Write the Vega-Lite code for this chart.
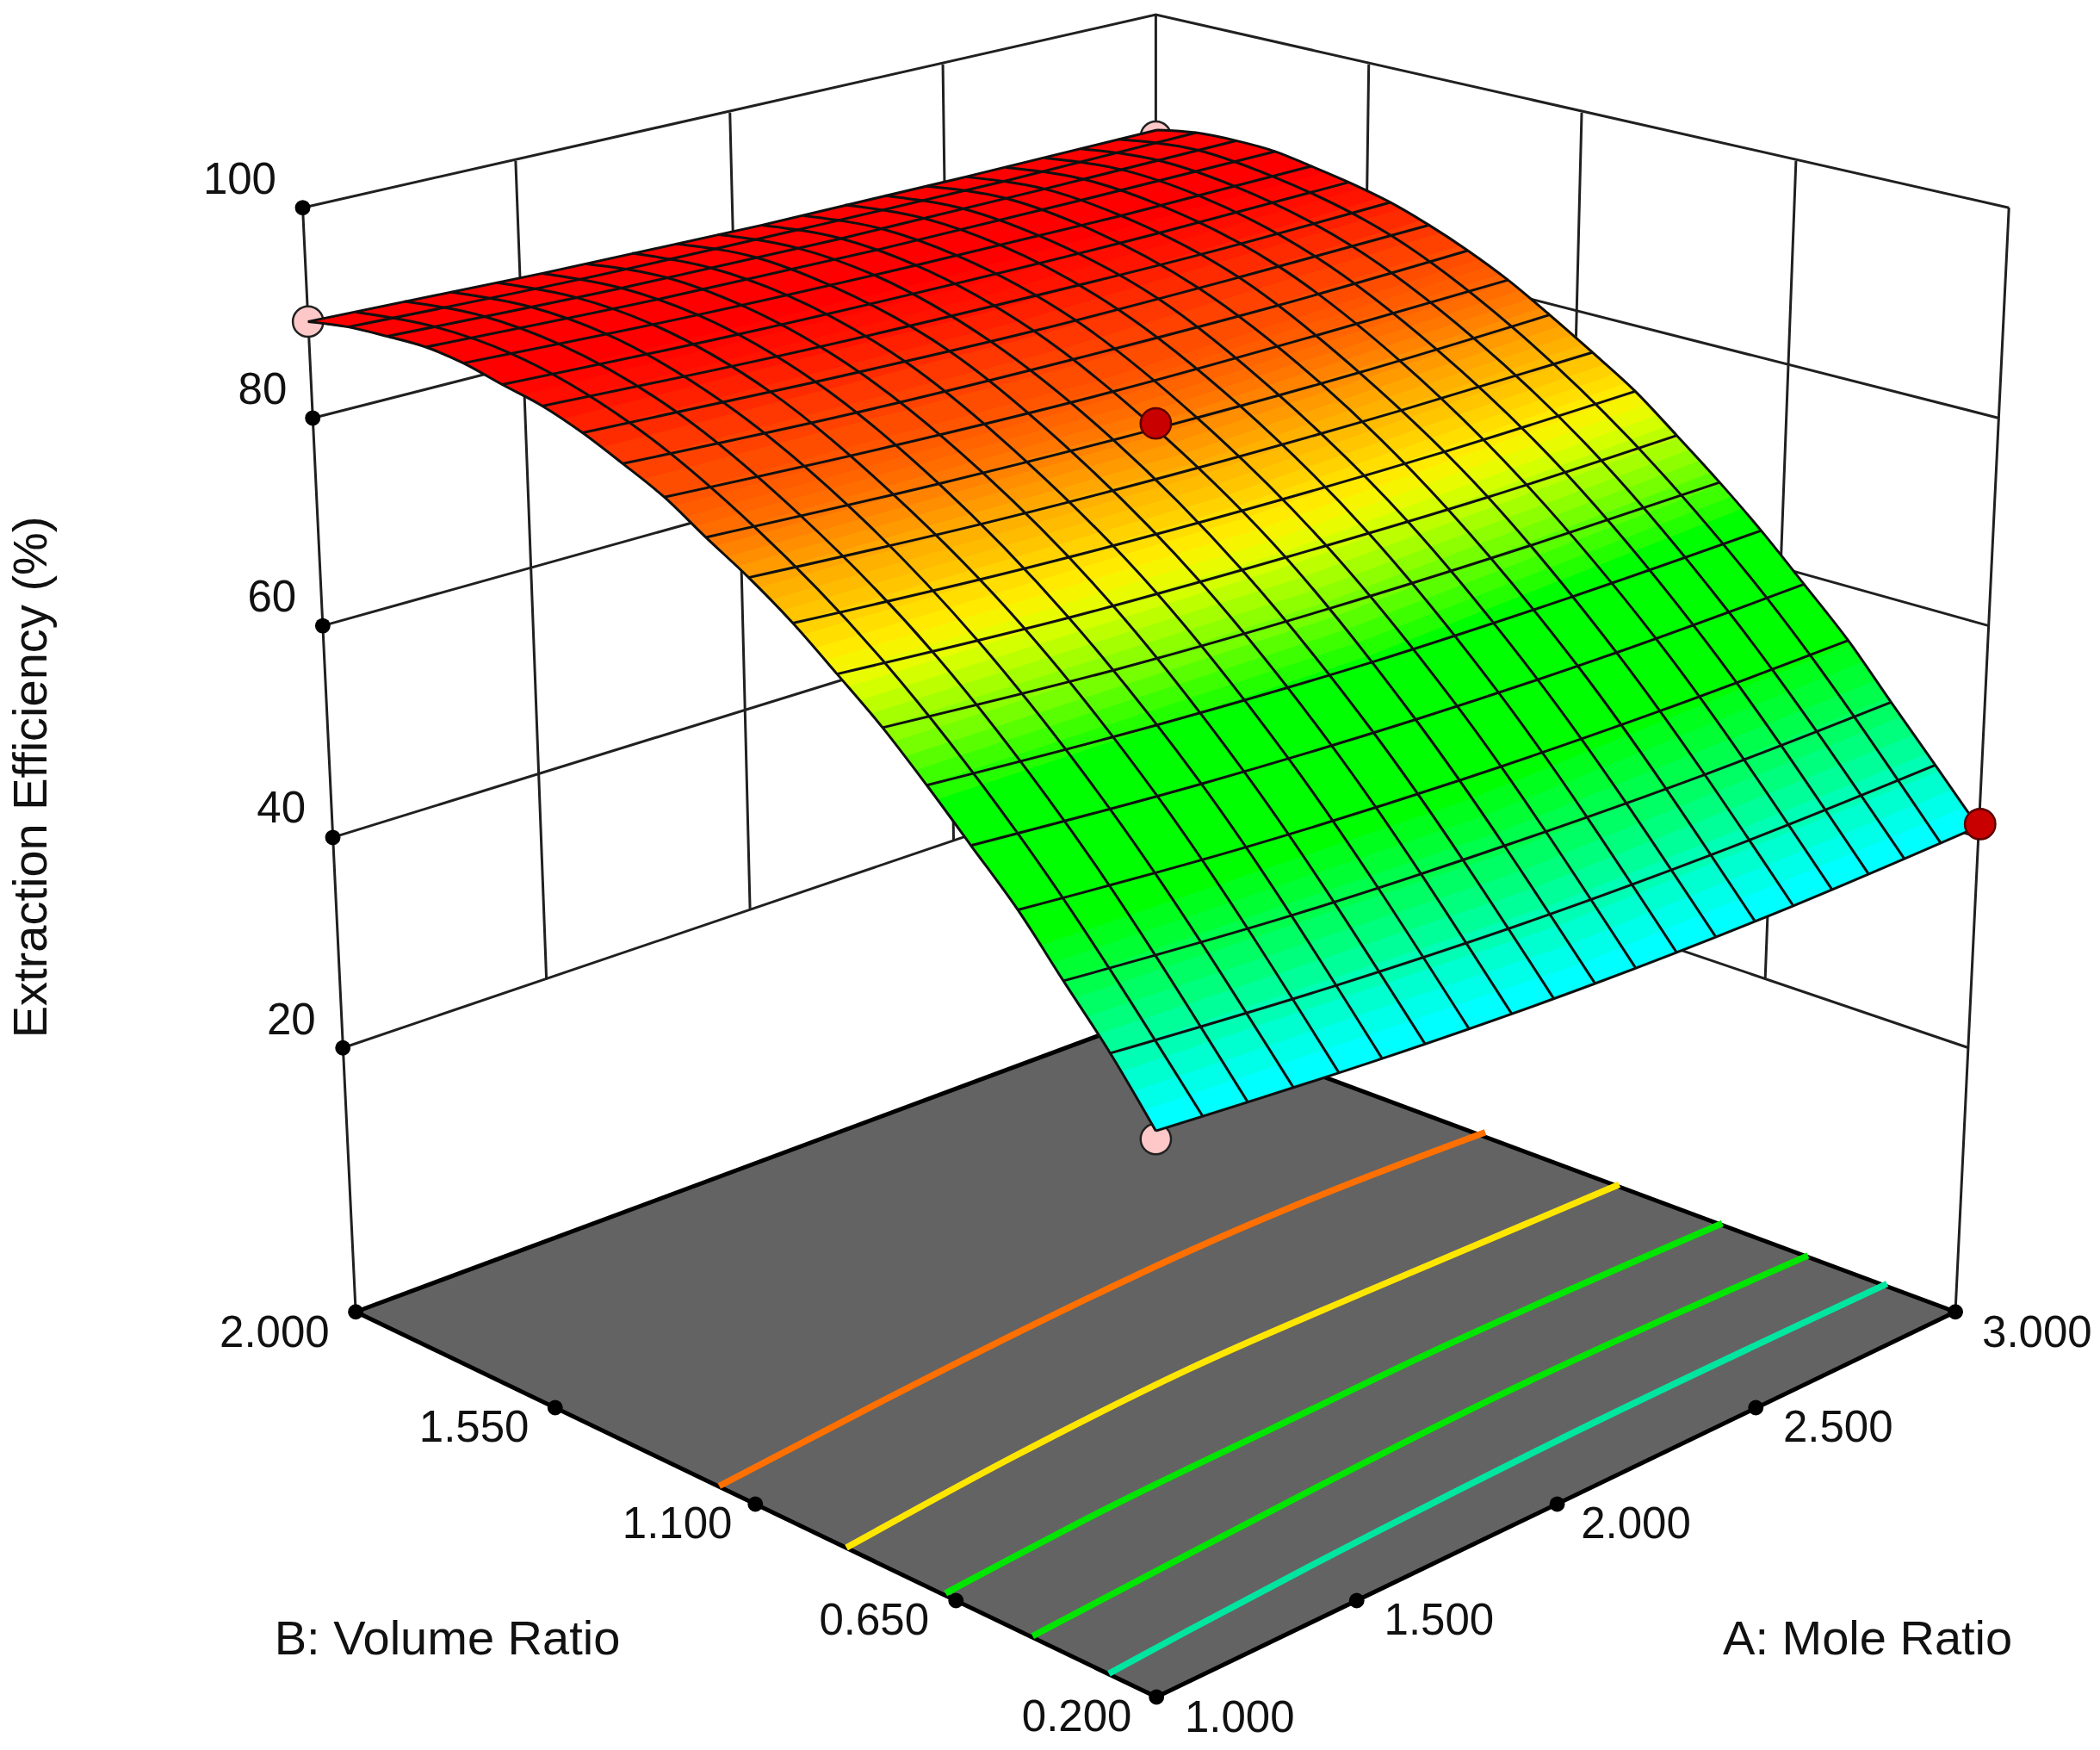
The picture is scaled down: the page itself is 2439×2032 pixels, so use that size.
{
  "$schema": "https://vega.github.io/schema/vega-lite/v6.json",
  "width": 2439,
  "height": 2032,
  "padding": 0,
  "autosize": {"type": "fit", "contains": "padding"},
  "background": "white",
  "config": {"view": {"stroke": null}},
  "datasets": {
    "walls": [
      {"w":"z100","sx":226,"sy":155},{"w":"z100","sx":863,"sy":11},{"w":"z100","sx":1500,"sy":155},
      {"w":"z80","sx":233.5,"sy":312},{"w":"z80","sx":863,"sy":152},{"w":"z80","sx":1492.5,"sy":312},
      {"w":"z60","sx":241,"sy":467},{"w":"z60","sx":863,"sy":293.5},{"w":"z60","sx":1485,"sy":467},
      {"w":"z40","sx":248.5,"sy":625},{"w":"z40","sx":863,"sy":435},{"w":"z40","sx":1477.5,"sy":625},
      {"w":"z20","sx":256,"sy":782},{"w":"z20","sx":863,"sy":576},{"w":"z20","sx":1470,"sy":782},
      {"w":"axisL","sx":226,"sy":155},{"w":"axisL","sx":265.6,"sy":979},
      {"w":"axisR","sx":1460,"sy":979},{"w":"axisR","sx":1500,"sy":155},
      {"w":"v1","sx":385,"sy":120},{"w":"v1","sx":408,"sy":731},
      {"w":"v2","sx":545,"sy":84},{"w":"v2","sx":560,"sy":678},
      {"w":"v3","sx":704,"sy":48},{"w":"v3","sx":712,"sy":627},
      {"w":"vc","sx":863,"sy":11},{"w":"vc","sx":863,"sy":576},
      {"w":"v4","sx":1014,"sy":627},{"w":"v4","sx":1022,"sy":48},
      {"w":"v5","sx":1166,"sy":678},{"w":"v5","sx":1181,"sy":84},
      {"w":"v6","sx":1318,"sy":731},{"w":"v6","sx":1341,"sy":120}
    ],
    "floor": [
      {"o":0,"sx":265.6,"sy":979},{"o":1,"sx":863.5,"sy":1266.5},{"o":2,"sx":1460,"sy":979},{"o":3,"sx":863,"sy":757},{"o":4,"sx":265.6,"sy":979}
    ],
    "contours": [
      {"z":72,"sx":537,"sy":1109},{"z":72,"sx":654,"sy":1048},{"z":72,"sx":777,"sy":986},{"z":72,"sx":887,"sy":934},{"z":72,"sx":976,"sy":896},{"z":72,"sx":1109,"sy":845},
      {"z":60,"sx":632,"sy":1155},{"z":60,"sx":757,"sy":1087},{"z":60,"sx":887,"sy":1022},{"z":60,"sx":1022,"sy":963},{"z":60,"sx":1209,"sy":884},
      {"z":48,"sx":706,"sy":1189},{"z":48,"sx":836,"sy":1121},{"z":48,"sx":950,"sy":1066},{"z":48,"sx":1069,"sy":1009},{"z":48,"sx":1286,"sy":913},
      {"z":36,"sx":771,"sy":1221},{"z":36,"sx":887,"sy":1160},{"z":36,"sx":1116,"sy":1043},{"z":36,"sx":1350,"sy":937},
      {"z":24,"sx":828,"sy":1249},{"z":24,"sx":887,"sy":1217},{"z":24,"sx":976,"sy":1170},{"z":24,"sx":1163,"sy":1075},{"z":24,"sx":1409,"sy":958}
    ],
    "dots": [
      {"sx":226,"sy":155},{"sx":233.5,"sy":312},{"sx":241,"sy":467},{"sx":248.5,"sy":625},{"sx":256,"sy":782},
      {"sx":265.6,"sy":979},{"sx":414.5,"sy":1050.5},{"sx":564,"sy":1122.5},{"sx":713.8,"sy":1194.5},{"sx":863.5,"sy":1266.5},
      {"sx":1013,"sy":1194.5},{"sx":1162.7,"sy":1122.5},{"sx":1311,"sy":1050.5},{"sx":1460,"sy":979}
    ],
    "designLow": [
      {"sx":230,"sy":240},{"sx":863,"sy":102},{"sx":863,"sy":850}
    ],
    "designHigh": [
      {"sx":863,"sy":316},{"sx":1478.5,"sy":615}
    ],
    "bands": [
      {"b":0,"o":0,"sx":230,"sy":240,"z":85},{"b":0,"o":1,"sx":260,"sy":244,"z":85},{"b":0,"o":2,"sx":289,"sy":251,"z":85},{"b":0,"o":3,"sx":318,"sy":259,"z":85},
      {"b":0,"o":4,"sx":346,"sy":271,"z":85},{"b":0,"o":5,"sx":375,"sy":287,"z":85},{"b":0,"o":6,"sx":704,"sy":208,"z":85},{"b":0,"o":7,"sx":990,"sy":129,"z":85},
      {"b":0,"o":8,"sx":979,"sy":124,"z":85},{"b":0,"o":9,"sx":952,"sy":113,"z":85},{"b":0,"o":10,"sx":923,"sy":105,"z":85},{"b":0,"o":11,"sx":893,"sy":99,"z":85},
      {"b":0,"o":12,"sx":864,"sy":97,"z":85},{"b":0,"o":13,"sx":721,"sy":132,"z":85},{"b":0,"o":14,"sx":569,"sy":168,"z":85},{"b":0,"o":15,"sx":405,"sy":204,"z":85},
      {"b":1,"o":0,"sx":375,"sy":287,"z":82.2},{"b":1,"o":1,"sx":704,"sy":208,"z":82.2},{"b":1,"o":2,"sx":990,"sy":129,"z":82.2},{"b":1,"o":3,"sx":1003,"sy":135,"z":82.2},{"b":1,"o":4,"sx":718,"sy":215,"z":82.2},{"b":1,"o":5,"sx":390,"sy":295,"z":82.2},
      {"b":2,"o":0,"sx":390,"sy":295,"z":81.3},{"b":2,"o":1,"sx":718,"sy":215,"z":81.3},{"b":2,"o":2,"sx":1003,"sy":135,"z":81.3},{"b":2,"o":3,"sx":1016,"sy":141,"z":81.3},{"b":2,"o":4,"sx":732,"sy":222,"z":81.3},{"b":2,"o":5,"sx":405,"sy":303,"z":81.3},
      {"b":3,"o":0,"sx":405,"sy":303,"z":80.3},{"b":3,"o":1,"sx":732,"sy":222,"z":80.3},{"b":3,"o":2,"sx":1016,"sy":141,"z":80.3},{"b":3,"o":3,"sx":1031,"sy":148,"z":80.3},{"b":3,"o":4,"sx":747,"sy":231,"z":80.3},{"b":3,"o":5,"sx":420,"sy":313,"z":80.3},
      {"b":4,"o":0,"sx":420,"sy":313,"z":79.1},{"b":4,"o":1,"sx":747,"sy":231,"z":79.1},{"b":4,"o":2,"sx":1031,"sy":148,"z":79.1},{"b":4,"o":3,"sx":1047,"sy":156,"z":79.1},{"b":4,"o":4,"sx":762,"sy":240,"z":79.1},{"b":4,"o":5,"sx":435,"sy":323,"z":79.1},
      {"b":5,"o":0,"sx":435,"sy":323,"z":77.9},{"b":5,"o":1,"sx":762,"sy":240,"z":77.9},{"b":5,"o":2,"sx":1047,"sy":156,"z":77.9},{"b":5,"o":3,"sx":1061,"sy":165,"z":77.9},{"b":5,"o":4,"sx":777,"sy":250,"z":77.9},{"b":5,"o":5,"sx":450,"sy":334,"z":77.9},
      {"b":6,"o":0,"sx":450,"sy":334,"z":76.6},{"b":6,"o":1,"sx":777,"sy":250,"z":76.6},{"b":6,"o":2,"sx":1061,"sy":165,"z":76.6},{"b":6,"o":3,"sx":1076,"sy":174,"z":76.6},{"b":6,"o":4,"sx":792,"sy":261,"z":76.6},{"b":6,"o":5,"sx":465,"sy":346,"z":76.6},
      {"b":7,"o":0,"sx":465,"sy":346,"z":75.3},{"b":7,"o":1,"sx":792,"sy":261,"z":75.3},{"b":7,"o":2,"sx":1076,"sy":174,"z":75.3},{"b":7,"o":3,"sx":1090,"sy":184,"z":75.3},{"b":7,"o":4,"sx":807,"sy":272,"z":75.3},{"b":7,"o":5,"sx":480,"sy":358,"z":75.3},
      {"b":8,"o":0,"sx":480,"sy":358,"z":73.8},{"b":8,"o":1,"sx":807,"sy":272,"z":73.8},{"b":8,"o":2,"sx":1090,"sy":184,"z":73.8},{"b":8,"o":3,"sx":1105,"sy":194,"z":73.8},{"b":8,"o":4,"sx":822,"sy":284,"z":73.8},{"b":8,"o":5,"sx":496,"sy":371,"z":73.8},
      {"b":9,"o":0,"sx":496,"sy":371,"z":72.6},{"b":9,"o":1,"sx":822,"sy":284,"z":72.6},{"b":9,"o":2,"sx":1105,"sy":194,"z":72.6},{"b":9,"o":3,"sx":1112,"sy":199,"z":72.6},{"b":9,"o":4,"sx":829,"sy":290,"z":72.6},{"b":9,"o":5,"sx":504,"sy":378,"z":72.6},
      {"b":10,"o":0,"sx":504,"sy":378,"z":71.8},{"b":10,"o":1,"sx":829,"sy":290,"z":71.8},{"b":10,"o":2,"sx":1112,"sy":199,"z":71.8},{"b":10,"o":3,"sx":1120,"sy":205,"z":71.8},{"b":10,"o":4,"sx":837,"sy":296,"z":71.8},{"b":10,"o":5,"sx":512,"sy":386,"z":71.8},
      {"b":11,"o":0,"sx":512,"sy":386,"z":71},{"b":11,"o":1,"sx":837,"sy":296,"z":71},{"b":11,"o":2,"sx":1120,"sy":205,"z":71},{"b":11,"o":3,"sx":1127,"sy":211,"z":71},{"b":11,"o":4,"sx":845,"sy":303,"z":71},{"b":11,"o":5,"sx":519,"sy":393,"z":71},
      {"b":12,"o":0,"sx":519,"sy":393,"z":70.2},{"b":12,"o":1,"sx":845,"sy":303,"z":70.2},{"b":12,"o":2,"sx":1127,"sy":211,"z":70.2},{"b":12,"o":3,"sx":1135,"sy":217,"z":70.2},{"b":12,"o":4,"sx":852,"sy":310,"z":70.2},{"b":12,"o":5,"sx":527,"sy":401,"z":70.2},
      {"b":13,"o":0,"sx":527,"sy":401,"z":69.3},{"b":13,"o":1,"sx":852,"sy":310,"z":69.3},{"b":13,"o":2,"sx":1135,"sy":217,"z":69.3},{"b":13,"o":3,"sx":1143,"sy":223,"z":69.3},{"b":13,"o":4,"sx":860,"sy":317,"z":69.3},{"b":13,"o":5,"sx":535,"sy":408,"z":69.3},
      {"b":14,"o":0,"sx":535,"sy":408,"z":68.4},{"b":14,"o":1,"sx":860,"sy":317,"z":68.4},{"b":14,"o":2,"sx":1143,"sy":223,"z":68.4},{"b":14,"o":3,"sx":1151,"sy":230,"z":68.4},{"b":14,"o":4,"sx":868,"sy":324,"z":68.4},{"b":14,"o":5,"sx":543,"sy":416,"z":68.4},
      {"b":15,"o":0,"sx":543,"sy":416,"z":67.5},{"b":15,"o":1,"sx":868,"sy":324,"z":67.5},{"b":15,"o":2,"sx":1151,"sy":230,"z":67.5},{"b":15,"o":3,"sx":1159,"sy":236,"z":67.5},{"b":15,"o":4,"sx":876,"sy":331,"z":67.5},{"b":15,"o":5,"sx":551,"sy":423,"z":67.5},
      {"b":16,"o":0,"sx":551,"sy":423,"z":66.6},{"b":16,"o":1,"sx":876,"sy":331,"z":66.6},{"b":16,"o":2,"sx":1159,"sy":236,"z":66.6},{"b":16,"o":3,"sx":1167,"sy":243,"z":66.6},{"b":16,"o":4,"sx":884,"sy":339,"z":66.6},{"b":16,"o":5,"sx":559,"sy":431,"z":66.6},
      {"b":17,"o":0,"sx":559,"sy":431,"z":65.6},{"b":17,"o":1,"sx":884,"sy":339,"z":65.6},{"b":17,"o":2,"sx":1167,"sy":243,"z":65.6},{"b":17,"o":3,"sx":1175,"sy":250,"z":65.6},{"b":17,"o":4,"sx":892,"sy":346,"z":65.6},{"b":17,"o":5,"sx":567,"sy":439,"z":65.6},
      {"b":18,"o":0,"sx":567,"sy":439,"z":64.7},{"b":18,"o":1,"sx":892,"sy":346,"z":64.7},{"b":18,"o":2,"sx":1175,"sy":250,"z":64.7},{"b":18,"o":3,"sx":1183,"sy":257,"z":64.7},{"b":18,"o":4,"sx":900,"sy":354,"z":64.7},{"b":18,"o":5,"sx":576,"sy":448,"z":64.7},
      {"b":19,"o":0,"sx":576,"sy":448,"z":63.7},{"b":19,"o":1,"sx":900,"sy":354,"z":63.7},{"b":19,"o":2,"sx":1183,"sy":257,"z":63.7},{"b":19,"o":3,"sx":1191,"sy":264,"z":63.7},{"b":19,"o":4,"sx":908,"sy":362,"z":63.7},{"b":19,"o":5,"sx":584,"sy":456,"z":63.7},
      {"b":20,"o":0,"sx":584,"sy":456,"z":62.7},{"b":20,"o":1,"sx":908,"sy":362,"z":62.7},{"b":20,"o":2,"sx":1191,"sy":264,"z":62.7},{"b":20,"o":3,"sx":1199,"sy":272,"z":62.7},{"b":20,"o":4,"sx":916,"sy":370,"z":62.7},{"b":20,"o":5,"sx":592,"sy":465,"z":62.7},
      {"b":21,"o":0,"sx":592,"sy":465,"z":61.6},{"b":21,"o":1,"sx":916,"sy":370,"z":61.6},{"b":21,"o":2,"sx":1199,"sy":272,"z":61.6},{"b":21,"o":3,"sx":1207,"sy":279,"z":61.6},{"b":21,"o":4,"sx":924,"sy":378,"z":61.6},{"b":21,"o":5,"sx":600,"sy":474,"z":61.6},
      {"b":22,"o":0,"sx":600,"sy":474,"z":60.6},{"b":22,"o":1,"sx":924,"sy":378,"z":60.6},{"b":22,"o":2,"sx":1207,"sy":279,"z":60.6},{"b":22,"o":3,"sx":1215,"sy":286,"z":60.6},{"b":22,"o":4,"sx":933,"sy":386,"z":60.6},{"b":22,"o":5,"sx":609,"sy":484,"z":60.6},
      {"b":23,"o":0,"sx":609,"sy":484,"z":59.5},{"b":23,"o":1,"sx":933,"sy":386,"z":59.5},{"b":23,"o":2,"sx":1215,"sy":286,"z":59.5},{"b":23,"o":3,"sx":1222,"sy":294,"z":59.5},{"b":23,"o":4,"sx":941,"sy":395,"z":59.5},{"b":23,"o":5,"sx":617,"sy":493,"z":59.5},
      {"b":24,"o":0,"sx":617,"sy":493,"z":58.4},{"b":24,"o":1,"sx":941,"sy":395,"z":58.4},{"b":24,"o":2,"sx":1222,"sy":294,"z":58.4},{"b":24,"o":3,"sx":1230,"sy":302,"z":58.4},{"b":24,"o":4,"sx":949,"sy":404,"z":58.4},{"b":24,"o":5,"sx":625,"sy":503,"z":58.4},
      {"b":25,"o":0,"sx":625,"sy":503,"z":57.3},{"b":25,"o":1,"sx":949,"sy":404,"z":57.3},{"b":25,"o":2,"sx":1230,"sy":302,"z":57.3},{"b":25,"o":3,"sx":1238,"sy":310,"z":57.3},{"b":25,"o":4,"sx":957,"sy":413,"z":57.3},{"b":25,"o":5,"sx":633,"sy":513,"z":57.3},
      {"b":26,"o":0,"sx":633,"sy":513,"z":56.1},{"b":26,"o":1,"sx":957,"sy":413,"z":56.1},{"b":26,"o":2,"sx":1238,"sy":310,"z":56.1},{"b":26,"o":3,"sx":1246,"sy":318,"z":56.1},{"b":26,"o":4,"sx":965,"sy":422,"z":56.1},{"b":26,"o":5,"sx":642,"sy":523,"z":56.1},
      {"b":27,"o":0,"sx":642,"sy":523,"z":55},{"b":27,"o":1,"sx":965,"sy":422,"z":55},{"b":27,"o":2,"sx":1246,"sy":318,"z":55},{"b":27,"o":3,"sx":1254,"sy":327,"z":55},{"b":27,"o":4,"sx":973,"sy":431,"z":55},{"b":27,"o":5,"sx":650,"sy":533,"z":55},
      {"b":28,"o":0,"sx":650,"sy":533,"z":53.8},{"b":28,"o":1,"sx":973,"sy":431,"z":53.8},{"b":28,"o":2,"sx":1254,"sy":327,"z":53.8},{"b":28,"o":3,"sx":1262,"sy":336,"z":53.8},{"b":28,"o":4,"sx":981,"sy":441,"z":53.8},{"b":28,"o":5,"sx":659,"sy":543,"z":53.8},
      {"b":29,"o":0,"sx":659,"sy":543,"z":52.6},{"b":29,"o":1,"sx":981,"sy":441,"z":52.6},{"b":29,"o":2,"sx":1262,"sy":336,"z":52.6},{"b":29,"o":3,"sx":1270,"sy":344,"z":52.6},{"b":29,"o":4,"sx":990,"sy":450,"z":52.6},{"b":29,"o":5,"sx":667,"sy":554,"z":52.6},
      {"b":30,"o":0,"sx":667,"sy":554,"z":51.4},{"b":30,"o":1,"sx":990,"sy":450,"z":51.4},{"b":30,"o":2,"sx":1270,"sy":344,"z":51.4},{"b":30,"o":3,"sx":1278,"sy":353,"z":51.4},{"b":30,"o":4,"sx":998,"sy":460,"z":51.4},{"b":30,"o":5,"sx":676,"sy":565,"z":51.4},
      {"b":31,"o":0,"sx":676,"sy":565,"z":50.1},{"b":31,"o":1,"sx":998,"sy":460,"z":50.1},{"b":31,"o":2,"sx":1278,"sy":353,"z":50.1},{"b":31,"o":3,"sx":1285,"sy":362,"z":50.1},{"b":31,"o":4,"sx":1006,"sy":470,"z":50.1},{"b":31,"o":5,"sx":684,"sy":575,"z":50.1},
      {"b":32,"o":0,"sx":684,"sy":575,"z":48.8},{"b":32,"o":1,"sx":1006,"sy":470,"z":48.8},{"b":32,"o":2,"sx":1285,"sy":362,"z":48.8},{"b":32,"o":3,"sx":1293,"sy":371,"z":48.8},{"b":32,"o":4,"sx":1014,"sy":480,"z":48.8},{"b":32,"o":5,"sx":692,"sy":586,"z":48.8},
      {"b":33,"o":0,"sx":692,"sy":586,"z":47.5},{"b":33,"o":1,"sx":1014,"sy":480,"z":47.5},{"b":33,"o":2,"sx":1293,"sy":371,"z":47.5},{"b":33,"o":3,"sx":1301,"sy":380,"z":47.5},{"b":33,"o":4,"sx":1022,"sy":490,"z":47.5},{"b":33,"o":5,"sx":700,"sy":597,"z":47.5},
      {"b":34,"o":0,"sx":700,"sy":597,"z":46.2},{"b":34,"o":1,"sx":1022,"sy":490,"z":46.2},{"b":34,"o":2,"sx":1301,"sy":380,"z":46.2},{"b":34,"o":3,"sx":1309,"sy":389,"z":46.2},{"b":34,"o":4,"sx":1030,"sy":500,"z":46.2},{"b":34,"o":5,"sx":709,"sy":609,"z":46.2},
      {"b":35,"o":0,"sx":709,"sy":609,"z":42.8},{"b":35,"o":1,"sx":1030,"sy":500,"z":42.8},{"b":35,"o":2,"sx":1309,"sy":389,"z":42.8},{"b":35,"o":3,"sx":1344,"sy":432,"z":42.8},{"b":35,"o":4,"sx":1064,"sy":546,"z":42.8},{"b":35,"o":5,"sx":743,"sy":655,"z":42.8},
      {"b":36,"o":0,"sx":743,"sy":655,"z":37.1},{"b":36,"o":1,"sx":1064,"sy":546,"z":37.1},{"b":36,"o":2,"sx":1344,"sy":432,"z":37.1},{"b":36,"o":3,"sx":1382,"sy":481,"z":37.1},{"b":36,"o":4,"sx":1100,"sy":596,"z":37.1},{"b":36,"o":5,"sx":777,"sy":706,"z":37.1},
      {"b":37,"o":0,"sx":777,"sy":706,"z":33.4},{"b":37,"o":1,"sx":1100,"sy":596,"z":33.4},{"b":37,"o":2,"sx":1382,"sy":481,"z":33.4},{"b":37,"o":3,"sx":1391,"sy":494,"z":33.4},{"b":37,"o":4,"sx":1109,"sy":609,"z":33.4},{"b":37,"o":5,"sx":786,"sy":719,"z":33.4},
      {"b":38,"o":0,"sx":786,"sy":719,"z":31.9},{"b":38,"o":1,"sx":1109,"sy":609,"z":31.9},{"b":38,"o":2,"sx":1391,"sy":494,"z":31.9},{"b":38,"o":3,"sx":1401,"sy":508,"z":31.9},{"b":38,"o":4,"sx":1118,"sy":622,"z":31.9},{"b":38,"o":5,"sx":794,"sy":732,"z":31.9},
      {"b":39,"o":0,"sx":794,"sy":732,"z":30.3},{"b":39,"o":1,"sx":1118,"sy":622,"z":30.3},{"b":39,"o":2,"sx":1401,"sy":508,"z":30.3},{"b":39,"o":3,"sx":1410,"sy":521,"z":30.3},{"b":39,"o":4,"sx":1127,"sy":636,"z":30.3},{"b":39,"o":5,"sx":803,"sy":745,"z":30.3},
      {"b":40,"o":0,"sx":803,"sy":745,"z":28.8},{"b":40,"o":1,"sx":1127,"sy":636,"z":28.8},{"b":40,"o":2,"sx":1410,"sy":521,"z":28.8},{"b":40,"o":3,"sx":1420,"sy":535,"z":28.8},{"b":40,"o":4,"sx":1137,"sy":650,"z":28.8},{"b":40,"o":5,"sx":812,"sy":759,"z":28.8},
      {"b":41,"o":0,"sx":812,"sy":759,"z":27.2},{"b":41,"o":1,"sx":1137,"sy":650,"z":27.2},{"b":41,"o":2,"sx":1420,"sy":535,"z":27.2},{"b":41,"o":3,"sx":1429,"sy":549,"z":27.2},{"b":41,"o":4,"sx":1146,"sy":663,"z":27.2},{"b":41,"o":5,"sx":820,"sy":772,"z":27.2},
      {"b":42,"o":0,"sx":820,"sy":772,"z":25.5},{"b":42,"o":1,"sx":1146,"sy":663,"z":25.5},{"b":42,"o":2,"sx":1429,"sy":549,"z":25.5},{"b":42,"o":3,"sx":1439,"sy":563,"z":25.5},{"b":42,"o":4,"sx":1155,"sy":677,"z":25.5},{"b":42,"o":5,"sx":829,"sy":786,"z":25.5},
      {"b":43,"o":0,"sx":829,"sy":786,"z":23.9},{"b":43,"o":1,"sx":1155,"sy":677,"z":23.9},{"b":43,"o":2,"sx":1439,"sy":563,"z":23.9},{"b":43,"o":3,"sx":1448,"sy":576,"z":23.9},{"b":43,"o":4,"sx":1164,"sy":691,"z":23.9},{"b":43,"o":5,"sx":837,"sy":800,"z":23.9},
      {"b":44,"o":0,"sx":837,"sy":800,"z":22.2},{"b":44,"o":1,"sx":1164,"sy":691,"z":22.2},{"b":44,"o":2,"sx":1448,"sy":576,"z":22.2},{"b":44,"o":3,"sx":1458,"sy":590,"z":22.2},{"b":44,"o":4,"sx":1173,"sy":705,"z":22.2},{"b":44,"o":5,"sx":846,"sy":815,"z":22.2},
      {"b":45,"o":0,"sx":846,"sy":815,"z":20.6},{"b":45,"o":1,"sx":1173,"sy":705,"z":20.6},{"b":45,"o":2,"sx":1458,"sy":590,"z":20.6},{"b":45,"o":3,"sx":1467,"sy":603,"z":20.6},{"b":45,"o":4,"sx":1182,"sy":719,"z":20.6},{"b":45,"o":5,"sx":854,"sy":829,"z":20.6},
      {"b":46,"o":0,"sx":854,"sy":829,"z":18.9},{"b":46,"o":1,"sx":1182,"sy":719,"z":18.9},{"b":46,"o":2,"sx":1467,"sy":603,"z":18.9},{"b":46,"o":3,"sx":1477,"sy":617,"z":18.9},{"b":46,"o":4,"sx":1339,"sy":676,"z":18.9},{"b":46,"o":5,"sx":1191,"sy":734,"z":18.9},{"b":46,"o":6,"sx":1032,"sy":790,"z":18.9},{"b":46,"o":7,"sx":863,"sy":844,"z":18.9}
    ],
    "moleLines": [
      {"t":0,"sx":230,"sy":240},{"t":0,"sx":405,"sy":204},{"t":0,"sx":569,"sy":168},{"t":0,"sx":721,"sy":132},{"t":0,"sx":864,"sy":97},
      {"t":1,"sx":260,"sy":244},{"t":1,"sx":435,"sy":208},{"t":1,"sx":598,"sy":171},{"t":1,"sx":751,"sy":135},{"t":1,"sx":893,"sy":99},
      {"t":2,"sx":289,"sy":251},{"t":2,"sx":464,"sy":215},{"t":2,"sx":628,"sy":178},{"t":2,"sx":780,"sy":141},{"t":2,"sx":923,"sy":105},
      {"t":3,"sx":318,"sy":259},{"t":3,"sx":493,"sy":223},{"t":3,"sx":657,"sy":186},{"t":3,"sx":809,"sy":149},{"t":3,"sx":952,"sy":113},
      {"t":4,"sx":346,"sy":271},{"t":4,"sx":521,"sy":235},{"t":4,"sx":684,"sy":198},{"t":4,"sx":837,"sy":161},{"t":4,"sx":979,"sy":124},
      {"t":5,"sx":375,"sy":287},{"t":5,"sx":549,"sy":250},{"t":5,"sx":712,"sy":212},{"t":5,"sx":865,"sy":174},{"t":5,"sx":1007,"sy":136},
      {"t":6,"sx":405,"sy":303},{"t":6,"sx":580,"sy":266},{"t":6,"sx":743,"sy":228},{"t":6,"sx":896,"sy":190},{"t":6,"sx":1038,"sy":151},
      {"t":7,"sx":435,"sy":323},{"t":7,"sx":609,"sy":285},{"t":7,"sx":772,"sy":247},{"t":7,"sx":925,"sy":207},{"t":7,"sx":1067,"sy":168},
      {"t":8,"sx":465,"sy":346},{"t":8,"sx":639,"sy":308},{"t":8,"sx":802,"sy":268},{"t":8,"sx":954,"sy":228},{"t":8,"sx":1096,"sy":187},
      {"t":9,"sx":496,"sy":371},{"t":9,"sx":670,"sy":332},{"t":9,"sx":832,"sy":292},{"t":9,"sx":984,"sy":250},{"t":9,"sx":1126,"sy":209},
      {"t":10,"sx":527,"sy":401},{"t":10,"sx":701,"sy":361},{"t":10,"sx":863,"sy":320},{"t":10,"sx":1015,"sy":278},{"t":10,"sx":1157,"sy":235},
      {"t":11,"sx":559,"sy":431},{"t":11,"sx":733,"sy":391},{"t":11,"sx":895,"sy":349},{"t":11,"sx":1047,"sy":306},{"t":11,"sx":1189,"sy":263},
      {"t":12,"sx":592,"sy":465},{"t":12,"sx":766,"sy":424},{"t":12,"sx":928,"sy":381},{"t":12,"sx":1079,"sy":337},{"t":12,"sx":1221,"sy":292},
      {"t":13,"sx":625,"sy":503},{"t":13,"sx":798,"sy":461},{"t":13,"sx":960,"sy":416},{"t":13,"sx":1111,"sy":371},{"t":13,"sx":1252,"sy":325},
      {"t":14,"sx":659,"sy":543},{"t":14,"sx":832,"sy":500},{"t":14,"sx":993,"sy":454},{"t":14,"sx":1143,"sy":407},{"t":14,"sx":1284,"sy":360},
      {"t":15,"sx":692,"sy":586},{"t":15,"sx":864,"sy":541},{"t":15,"sx":1025,"sy":494},{"t":15,"sx":1175,"sy":445},{"t":15,"sx":1315,"sy":396},
      {"t":16,"sx":725,"sy":631},{"t":16,"sx":897,"sy":585},{"t":16,"sx":1057,"sy":537},{"t":16,"sx":1207,"sy":487},{"t":16,"sx":1347,"sy":436},
      {"t":17,"sx":760,"sy":679},{"t":17,"sx":931,"sy":632},{"t":17,"sx":1091,"sy":582},{"t":17,"sx":1241,"sy":530},{"t":17,"sx":1380,"sy":478},
      {"t":18,"sx":794,"sy":732},{"t":18,"sx":965,"sy":683},{"t":18,"sx":1124,"sy":631},{"t":18,"sx":1273,"sy":578},{"t":18,"sx":1412,"sy":524},
      {"t":19,"sx":829,"sy":786},{"t":19,"sx":999,"sy":735},{"t":19,"sx":1158,"sy":682},{"t":19,"sx":1306,"sy":627},{"t":19,"sx":1445,"sy":571},
      {"t":20,"sx":863,"sy":844},{"t":20,"sx":1032,"sy":790},{"t":20,"sx":1191,"sy":734},{"t":20,"sx":1339,"sy":676},{"t":20,"sx":1477,"sy":617}
    ],
    "volumeLines": [
      {"s":0,"sx":230,"sy":240},{"s":0,"sx":260,"sy":244},{"s":0,"sx":289,"sy":251},{"s":0,"sx":318,"sy":259},{"s":0,"sx":346,"sy":271},{"s":0,"sx":375,"sy":287},{"s":0,"sx":405,"sy":303},
      {"s":0,"sx":435,"sy":323},{"s":0,"sx":465,"sy":346},{"s":0,"sx":496,"sy":371},{"s":0,"sx":527,"sy":401},{"s":0,"sx":559,"sy":431},{"s":0,"sx":592,"sy":465},{"s":0,"sx":625,"sy":503},
      {"s":0,"sx":659,"sy":543},{"s":0,"sx":692,"sy":586},{"s":0,"sx":725,"sy":631},{"s":0,"sx":760,"sy":679},{"s":0,"sx":794,"sy":732},{"s":0,"sx":829,"sy":786},{"s":0,"sx":863,"sy":844},
      {"s":1,"sx":266,"sy":233},{"s":1,"sx":325,"sy":244},{"s":1,"sx":382,"sy":264},{"s":1,"sx":471,"sy":316},{"s":1,"sx":563,"sy":393},{"s":1,"sx":661,"sy":495},{"s":1,"sx":760,"sy":622},{"s":1,"sx":898,"sy":833},
      {"s":2,"sx":302,"sy":225},{"s":2,"sx":361,"sy":236},{"s":2,"sx":418,"sy":257},{"s":2,"sx":506,"sy":308},{"s":2,"sx":598,"sy":385},{"s":2,"sx":696,"sy":486},{"s":2,"sx":795,"sy":613},{"s":2,"sx":932,"sy":823},
      {"s":3,"sx":337,"sy":218},{"s":3,"sx":396,"sy":229},{"s":3,"sx":452,"sy":249},{"s":3,"sx":541,"sy":301},{"s":3,"sx":633,"sy":377},{"s":3,"sx":730,"sy":478},{"s":3,"sx":829,"sy":604},{"s":3,"sx":966,"sy":812},
      {"s":4,"sx":371,"sy":211},{"s":4,"sx":430,"sy":222},{"s":4,"sx":487,"sy":242},{"s":4,"sx":576,"sy":293},{"s":4,"sx":667,"sy":369},{"s":4,"sx":765,"sy":469},{"s":4,"sx":864,"sy":594},{"s":4,"sx":1000,"sy":801},
      {"s":5,"sx":405,"sy":204},{"s":5,"sx":464,"sy":215},{"s":5,"sx":521,"sy":235},{"s":5,"sx":609,"sy":285},{"s":5,"sx":701,"sy":361},{"s":5,"sx":798,"sy":461},{"s":5,"sx":897,"sy":585},{"s":5,"sx":1032,"sy":790},
      {"s":6,"sx":438,"sy":197},{"s":6,"sx":497,"sy":207},{"s":6,"sx":554,"sy":228},{"s":6,"sx":642,"sy":278},{"s":6,"sx":734,"sy":353},{"s":6,"sx":831,"sy":452},{"s":6,"sx":929,"sy":576},{"s":6,"sx":1064,"sy":779},
      {"s":7,"sx":472,"sy":189},{"s":7,"sx":531,"sy":200},{"s":7,"sx":587,"sy":220},{"s":7,"sx":676,"sy":270},{"s":7,"sx":767,"sy":345},{"s":7,"sx":864,"sy":443},{"s":7,"sx":962,"sy":566},{"s":7,"sx":1097,"sy":768},
      {"s":8,"sx":505,"sy":182},{"s":8,"sx":564,"sy":192},{"s":8,"sx":620,"sy":213},{"s":8,"sx":709,"sy":262},{"s":8,"sx":800,"sy":337},{"s":8,"sx":896,"sy":434},{"s":8,"sx":994,"sy":556},{"s":8,"sx":1129,"sy":757},
      {"s":9,"sx":536,"sy":175},{"s":9,"sx":595,"sy":185},{"s":9,"sx":652,"sy":205},{"s":9,"sx":740,"sy":255},{"s":9,"sx":831,"sy":328},{"s":9,"sx":928,"sy":426},{"s":9,"sx":1025,"sy":546},{"s":9,"sx":1160,"sy":745},
      {"s":10,"sx":569,"sy":168},{"s":10,"sx":628,"sy":178},{"s":10,"sx":684,"sy":198},{"s":10,"sx":772,"sy":247},{"s":10,"sx":863,"sy":320},{"s":10,"sx":960,"sy":416},{"s":10,"sx":1057,"sy":537},{"s":10,"sx":1191,"sy":734},
      {"s":11,"sx":600,"sy":161},{"s":11,"sx":659,"sy":171},{"s":11,"sx":715,"sy":191},{"s":11,"sx":803,"sy":239},{"s":11,"sx":894,"sy":312},{"s":11,"sx":991,"sy":408},{"s":11,"sx":1088,"sy":527},{"s":11,"sx":1221,"sy":722},
      {"s":12,"sx":631,"sy":153},{"s":12,"sx":690,"sy":163},{"s":12,"sx":747,"sy":183},{"s":12,"sx":835,"sy":231},{"s":12,"sx":926,"sy":303},{"s":12,"sx":1022,"sy":398},{"s":12,"sx":1119,"sy":517},{"s":12,"sx":1252,"sy":711},
      {"s":13,"sx":661,"sy":146},{"s":13,"sx":720,"sy":156},{"s":13,"sx":776,"sy":176},{"s":13,"sx":865,"sy":223},{"s":13,"sx":955,"sy":295},{"s":13,"sx":1051,"sy":389},{"s":13,"sx":1148,"sy":507},{"s":13,"sx":1281,"sy":699},
      {"s":14,"sx":692,"sy":139},{"s":14,"sx":751,"sy":148},{"s":14,"sx":807,"sy":168},{"s":14,"sx":895,"sy":215},{"s":14,"sx":986,"sy":286},{"s":14,"sx":1081,"sy":380},{"s":14,"sx":1178,"sy":497},{"s":14,"sx":1310,"sy":687},
      {"s":15,"sx":721,"sy":132},{"s":15,"sx":780,"sy":141},{"s":15,"sx":837,"sy":161},{"s":15,"sx":925,"sy":207},{"s":15,"sx":1015,"sy":278},{"s":15,"sx":1111,"sy":371},{"s":15,"sx":1207,"sy":487},{"s":15,"sx":1339,"sy":676},
      {"s":16,"sx":751,"sy":125},{"s":16,"sx":810,"sy":134},{"s":16,"sx":866,"sy":153},{"s":16,"sx":955,"sy":199},{"s":16,"sx":1045,"sy":269},{"s":16,"sx":1140,"sy":362},{"s":16,"sx":1236,"sy":476},{"s":16,"sx":1368,"sy":664},
      {"s":17,"sx":780,"sy":118},{"s":17,"sx":839,"sy":127},{"s":17,"sx":895,"sy":146},{"s":17,"sx":983,"sy":192},{"s":17,"sx":1073,"sy":261},{"s":17,"sx":1169,"sy":353},{"s":17,"sx":1264,"sy":466},{"s":17,"sx":1395,"sy":652},
      {"s":18,"sx":807,"sy":111},{"s":18,"sx":866,"sy":120},{"s":18,"sx":922,"sy":139},{"s":18,"sx":1010,"sy":184},{"s":18,"sx":1100,"sy":252},{"s":18,"sx":1196,"sy":344},{"s":18,"sx":1291,"sy":457},{"s":18,"sx":1422,"sy":641},
      {"s":19,"sx":835,"sy":104},{"s":19,"sx":894,"sy":112},{"s":19,"sx":951,"sy":132},{"s":19,"sx":1039,"sy":176},{"s":19,"sx":1129,"sy":244},{"s":19,"sx":1224,"sy":335},{"s":19,"sx":1319,"sy":446},{"s":19,"sx":1449,"sy":629},
      {"s":20,"sx":864,"sy":97},{"s":20,"sx":893,"sy":99},{"s":20,"sx":923,"sy":105},{"s":20,"sx":952,"sy":113},{"s":20,"sx":979,"sy":124},{"s":20,"sx":1007,"sy":136},{"s":20,"sx":1038,"sy":151},
      {"s":20,"sx":1067,"sy":168},{"s":20,"sx":1096,"sy":187},{"s":20,"sx":1126,"sy":209},{"s":20,"sx":1157,"sy":235},{"s":20,"sx":1189,"sy":263},{"s":20,"sx":1221,"sy":292},{"s":20,"sx":1252,"sy":325},
      {"s":20,"sx":1284,"sy":360},{"s":20,"sx":1315,"sy":396},{"s":20,"sx":1347,"sy":436},{"s":20,"sx":1380,"sy":478},{"s":20,"sx":1412,"sy":524},{"s":20,"sx":1445,"sy":571},{"s":20,"sx":1477,"sy":617}
    ],
    "tickLabels": [
      {"label":"100","sx":179,"sy":135},{"label":"80","sx":196,"sy":292},{"label":"60","sx":203,"sy":447},{"label":"40","sx":210,"sy":604},{"label":"20","sx":217.5,"sy":762},
      {"label":"2.000","sx":205,"sy":995.6},{"label":"1.550","sx":354,"sy":1066},{"label":"1.100","sx":505.7,"sy":1138},{"label":"0.650","sx":652.7,"sy":1210},{"label":"0.200","sx":804,"sy":1282.5},
      {"label":"1.000","sx":925.6,"sy":1283},{"label":"1.500","sx":1074.5,"sy":1210},{"label":"2.000","sx":1221.5,"sy":1138},{"label":"2.500","sx":1372.4,"sy":1066},{"label":"3.000","sx":1521,"sy":995.6}
    ],
    "axisTitles": [
      {"label":"A: Mole Ratio","sx":1394.5,"sy":1223.5},{"label":"B: Volume Ratio","sx":334,"sy":1223.5}
    ],
    "zTitle": [
      {"label":"Extraction Efficiency (%)","sx":24,"sy":580}
    ]
  },
  "encoding": {
    "x": {"field": "sx", "type": "quantitative", "axis": null, "scale": {"domain": [0, 1568], "nice": false, "zero": false}},
    "y": {"field": "sy", "type": "quantitative", "axis": null, "scale": {"domain": [1306, 0], "nice": false, "zero": false}}
  },
  "layer": [
    {
      "data": {"name": "walls"},
      "mark": {"type": "line", "stroke": "#202020", "strokeWidth": 3},
      "encoding": {"detail": {"field": "w", "type": "nominal"}}
    },
    {
      "data": {"name": "floor"},
      "mark": {"type": "line", "filled": true, "fill": "#636363", "stroke": "#000000", "strokeWidth": 5},
      "encoding": {"order": {"field": "o", "type": "quantitative"}}
    },
    {
      "data": {"name": "contours"},
      "mark": {"type": "line", "strokeWidth": 7.5, "interpolate": "monotone"},
      "encoding": {
        "detail": {"field": "z", "type": "nominal"},
        "color": {
          "field": "z",
          "type": "quantitative",
          "legend": null,
          "scale": {"domain": [24, 36, 48, 60, 72], "range": ["#00e6a0", "#00e600", "#00e600", "#ffe600", "#ff7000"]}
        }
      }
    },
    {
      "data": {"name": "dots"},
      "mark": {"type": "circle", "size": 320, "color": "#000000", "opacity": 1}
    },
    {
      "data": {"name": "designLow"},
      "mark": {"type": "circle", "size": 1250, "fill": "#ffc8c8", "stroke": "#222222", "strokeWidth": 2.5, "opacity": 1}
    },
    {
      "data": {"name": "bands"},
      "mark": {"type": "line", "filled": true, "strokeWidth": 1.5, "strokeJoin": "bevel"},
      "encoding": {
        "detail": {"field": "b", "type": "nominal"},
        "order": {"field": "o", "type": "quantitative"},
        "fill": {
          "field": "z",
          "type": "quantitative",
          "legend": null,
          "scale": {
            "domain": [18.9, 20.6, 23.1, 26.4, 29.5, 32.7, 37.1, 46.2, 47.5, 49.5, 52, 54.4, 56.7, 59, 61.1, 63.2, 65.2, 67.1, 68.9, 70.6, 72.2, 74.5, 77.3, 79.7, 81.8, 85],
            "range": ["#00ffff", "#00ffe8", "#00ffc0", "#00ff88", "#00ff58", "#00ff20", "#00ff00", "#00ff00", "#24ff00", "#48ff00", "#80ff00", "#b0ff00", "#e0ff00", "#fff000", "#ffd800", "#ffc000", "#ffac00", "#ff9400", "#ff7c00", "#ff6800", "#ff5800", "#ff4800", "#ff3000", "#ff1800", "#ff0800", "#ff0000"]
          }
        },
        "stroke": {
          "field": "z",
          "type": "quantitative",
          "legend": null,
          "scale": {
            "domain": [18.9, 20.6, 23.1, 26.4, 29.5, 32.7, 37.1, 46.2, 47.5, 49.5, 52, 54.4, 56.7, 59, 61.1, 63.2, 65.2, 67.1, 68.9, 70.6, 72.2, 74.5, 77.3, 79.7, 81.8, 85],
            "range": ["#00ffff", "#00ffe8", "#00ffc0", "#00ff88", "#00ff58", "#00ff20", "#00ff00", "#00ff00", "#24ff00", "#48ff00", "#80ff00", "#b0ff00", "#e0ff00", "#fff000", "#ffd800", "#ffc000", "#ffac00", "#ff9400", "#ff7c00", "#ff6800", "#ff5800", "#ff4800", "#ff3000", "#ff1800", "#ff0800", "#ff0000"]
          }
        }
      }
    },
    {
      "data": {"name": "moleLines"},
      "mark": {"type": "line", "stroke": "#101010", "strokeWidth": 3, "interpolate": "monotone"},
      "encoding": {"detail": {"field": "t", "type": "nominal"}}
    },
    {
      "data": {"name": "volumeLines"},
      "mark": {"type": "line", "stroke": "#101010", "strokeWidth": 3, "interpolate": "monotone"},
      "encoding": {"detail": {"field": "s", "type": "nominal"}}
    },
    {
      "data": {"name": "designHigh"},
      "mark": {"type": "circle", "size": 1250, "fill": "#c80000", "stroke": "#5a0000", "strokeWidth": 2.5, "opacity": 1}
    },
    {
      "data": {"name": "tickLabels"},
      "mark": {"type": "text", "font": "Liberation Sans", "fontSize": 51, "color": "#111111", "align": "center", "baseline": "middle"},
      "encoding": {"text": {"field": "label", "type": "nominal"}}
    },
    {
      "data": {"name": "axisTitles"},
      "mark": {"type": "text", "font": "Liberation Sans", "fontSize": 56, "color": "#111111", "align": "center", "baseline": "middle"},
      "encoding": {"text": {"field": "label", "type": "nominal"}}
    },
    {
      "data": {"name": "zTitle"},
      "mark": {"type": "text", "font": "Liberation Sans", "fontSize": 56, "color": "#111111", "align": "center", "baseline": "middle", "angle": 270},
      "encoding": {"text": {"field": "label", "type": "nominal"}}
    }
  ]
}
